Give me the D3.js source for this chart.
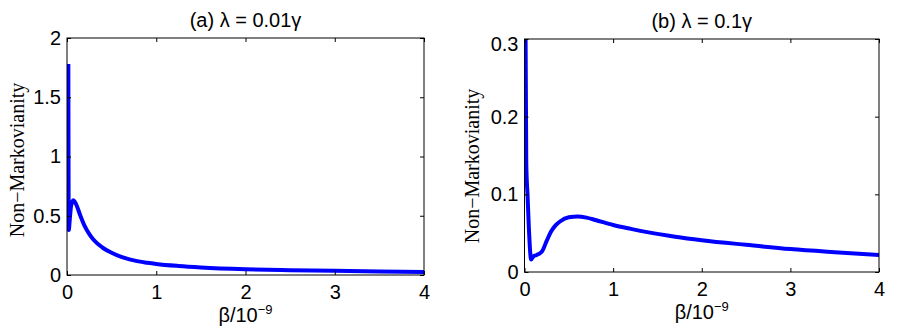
<!DOCTYPE html>
<html>
<head>
<meta charset="utf-8">
<script src="https://cdn.jsdelivr.net/npm/d3@7"></script>
<style>
  body { margin: 0; background: #fff; }
  text { font-family: "Liberation Sans", Arial, sans-serif; }
</style>
</head>
<body>
<div id="chart"></div>
<script>
// panel (a) data, lambda = 0.01 gamma
const betaA = [0.015, 0.02, 0.03, 0.045, 0.07, 0.1, 0.15, 0.2, 0.25, 0.3, 0.4, 0.5, 0.6, 0.7, 0.8, 0.9, 1.0, 1.25, 1.5, 2.0, 2.5, 3.0, 3.5, 4.0];
const nmA   = [1.78, 0.38, 0.46, 0.58, 0.63, 0.6, 0.5, 0.41, 0.345, 0.295, 0.23, 0.188, 0.155, 0.132, 0.115, 0.103, 0.093, 0.076, 0.064, 0.049, 0.041, 0.035, 0.03, 0.026];

// panel (b) data, lambda = 0.1 gamma
const betaB = [0.012, 0.02, 0.035, 0.05, 0.075, 0.1, 0.14, 0.2, 0.25, 0.3, 0.35, 0.4, 0.5, 0.6, 0.7, 0.8, 1.0, 1.2, 1.4, 1.7, 2.0, 2.5, 3.0, 3.5, 4.0];
const nmB   = [0.305, 0.14, 0.097, 0.055, 0.016, 0.02, 0.022, 0.027, 0.04, 0.052, 0.06, 0.065, 0.0705, 0.0715, 0.07, 0.067, 0.0605, 0.0555, 0.051, 0.0455, 0.041, 0.035, 0.0295, 0.0255, 0.022];

const xTicks = [0, 1, 2, 3, 4];
const yTicksA = [0, 0.5, 1, 1.5, 2];
const yTicksB = [0, 0.1, 0.2, 0.3];

const svg = d3.select("#chart")
  .append("svg")
  .attr("width", 900)
  .attr("height", 330);

function panel(opts) {
  const {left, right, top, bottom, xs, ys, yMax, yTicks, title, id} = opts;
  const w = right - left, h = bottom - top;
  const g = svg.append("g").attr("transform", `translate(${left},${top})`);

  const x = d3.scaleLinear().domain([0, 4]).range([0, w]);
  const y = d3.scaleLinear().domain([0, yMax]).range([h, 0]);

  g.append("clipPath").attr("id", id)
    .append("rect").attr("width", w).attr("height", h);

  const line = d3.line()
    .x(function(d) { return x(d[0]); })
    .y(function(d) { return y(d[1]); })
    .curve(d3.curveMonotoneX);

  g.append("path")
    .datum(d3.zip(xs, ys))
    .attr("clip-path", `url(#${id})`)
    .attr("d", line)
    .attr("fill", "none")
    .attr("stroke", "#0000ff")
    .attr("stroke-width", 4)
    .attr("stroke-linejoin", "round");

  // axes: ticks point inward on all four sides
  const fmt = d3.format("");
  g.append("g").attr("transform", `translate(0,${h})`)
    .call(d3.axisBottom(x).tickValues(xTicks).tickSizeInner(-4).tickSizeOuter(0).tickPadding(10).tickFormat(fmt));
  g.append("g")
    .call(d3.axisTop(x).tickValues(xTicks).tickSizeInner(-4).tickSizeOuter(0).tickFormat(""));
  const yax = g.append("g")
    .call(d3.axisLeft(y).tickValues(yTicks).tickSizeInner(-4).tickSizeOuter(0).tickPadding(6).tickFormat(fmt));
  g.append("g").attr("transform", `translate(${w},0)`)
    .call(d3.axisRight(y).tickValues(yTicks).tickSizeInner(-4).tickSizeOuter(0).tickFormat(""));

  g.selectAll(".domain").remove();
  g.selectAll(".tick line").attr("stroke", "#000");
  g.selectAll(".tick text")
    .attr("fill", "#000")
    .style("font-size", "20px")
    .style("font-family", "'Liberation Sans', Arial, sans-serif");
  // nudge the top y label down a little, as in the original
  yax.selectAll(".tick text")
    .filter(function(d) { return d === yMax; })
    .attr("y", opts.topNudge);

  g.append("rect")
    .attr("width", w).attr("height", h)
    .attr("fill", "none").attr("stroke", "#000").attr("stroke-width", 1);

  // title
  g.append("text")
    .attr("x", w / 2).attr("y", -11)
    .attr("text-anchor", "middle")
    .style("font-size", "20px")
    .text(title);

  // x label with superscript
  const xl = g.append("text")
    .attr("x", w / 2).attr("y", h + 47)
    .attr("text-anchor", "middle")
    .style("font-size", "20px");
  xl.append("tspan").text("β/10");
  xl.append("tspan").attr("dy", -8).style("font-size", "13px").text("−9");

  // y label
  g.append("text")
    .attr("transform", `translate(${opts.ylx},${h / 2 + opts.yly}) rotate(-90)`)
    .attr("text-anchor", "middle")
    .style("font-family", "'Liberation Serif', 'Times New Roman', serif")
    .style("font-size", "20px")
    .text("Non−Markovianity");
}

panel({left: 67, right: 424, top: 38, bottom: 275, xs: betaA, ys: nmA, yMax: 2,
  yTicks: yTicksA, title: "(a) λ = 0.01γ", id: "clipA", ylx: -43, yly: 3.5, topNudge: 0});
panel({left: 524.5, right: 879, top: 39, bottom: 272, xs: betaB, ys: nmB, yMax: 0.3,
  yTicks: yTicksB, title: "(b) λ = 0.1γ", id: "clipB", ylx: -46, yly: 10.5, topNudge: 5});
</script>
</body>
</html>
